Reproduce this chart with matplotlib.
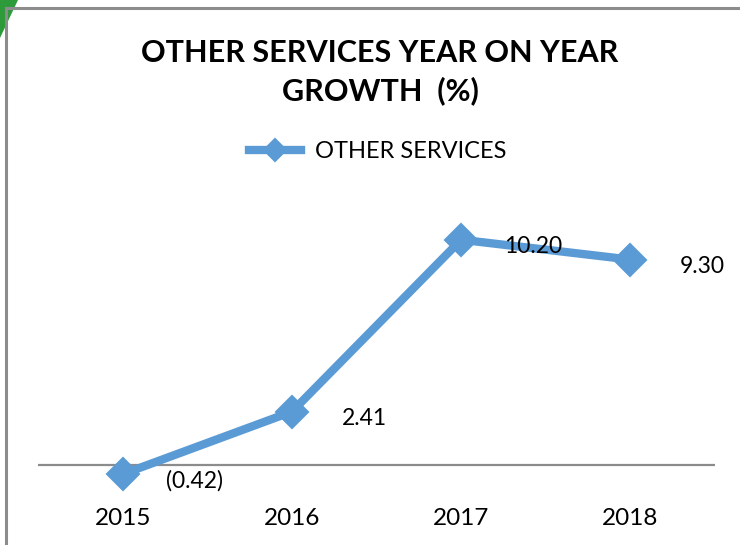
import numpy as np
import matplotlib.pyplot as plt
from matplotlib.patches import Polygon
from matplotlib.lines import Line2D

years = ["2015", "2016", "2017", "2018"]
growth = [-0.42, 2.41, 10.20, 9.30]
series_name = "OTHER SERVICES"

blue = "#5B9BD5"
plt.rcParams['font.family'] = ['Lato', 'DejaVu Sans']


def fmt(v):
    # accounting style: negatives in brackets
    if v < 0:
        return "(%.2f)" % abs(v)
    return "%.2f" % v


fig = plt.figure(figsize=(7.4, 5.45), dpi=100)
W, H = 740, 545

# chart frame and green corner
fig.add_artist(Line2D([6 / W, 1], [1 - 8 / H, 1 - 8 / H], transform=fig.transFigure,
                      color="#8c8c8c", lw=2.2))
fig.add_artist(Line2D([6 / W, 6 / W], [0, 1 - 8 / H], transform=fig.transFigure,
                      color="#8c8c8c", lw=2.2))
fig.add_artist(Polygon([[0, 1], [18 / W, 1], [0, 1 - 38 / H]], closed=True,
                       transform=fig.transFigure, color="#2e9b3a", lw=0))

ax = fig.add_axes([38 / W, 1 - 498 / H, 677 / W, 298 / H])
x = np.arange(len(years))
ax.plot(x, growth, color=blue, lw=6, marker="D", markersize=16,
        markerfacecolor=blue, markeredgecolor=blue, markeredgewidth=1.5,
        solid_joinstyle="round", label=series_name)

for xi, v in zip(x, growth):
    ax.annotate(fmt(v), (xi, v), xytext=(52, -5), textcoords="offset points",
                ha="center", va="center", fontsize=16.5, color="black")

ax.axhline(0, color="#8c8c8c", lw=1.6, zorder=0)
ax.set_xlim(-0.5, 3.5)
ax.set_ylim(-1.5, 12)
ax.set_xticks(x)
ax.set_xticklabels(years, fontsize=17.5)
ax.set_yticks([])
ax.tick_params(axis="x", length=0, pad=7)
for s in ax.spines.values():
    s.set_visible(False)

fig.text(380 / W, 1 - 72 / H, "OTHER SERVICES YEAR ON YEAR\nGROWTH  (%)", ha="center",
         va="center", fontsize=22, fontweight="bold", linespacing=1.35)

leg = fig.legend(loc="center", bbox_to_anchor=(378 / W, 1 - 152 / H), frameon=False,
                 fontsize=17, handlelength=2.2, handletextpad=0.6, markerscale=0.7)

fig.savefig("out.png", dpi=100)
